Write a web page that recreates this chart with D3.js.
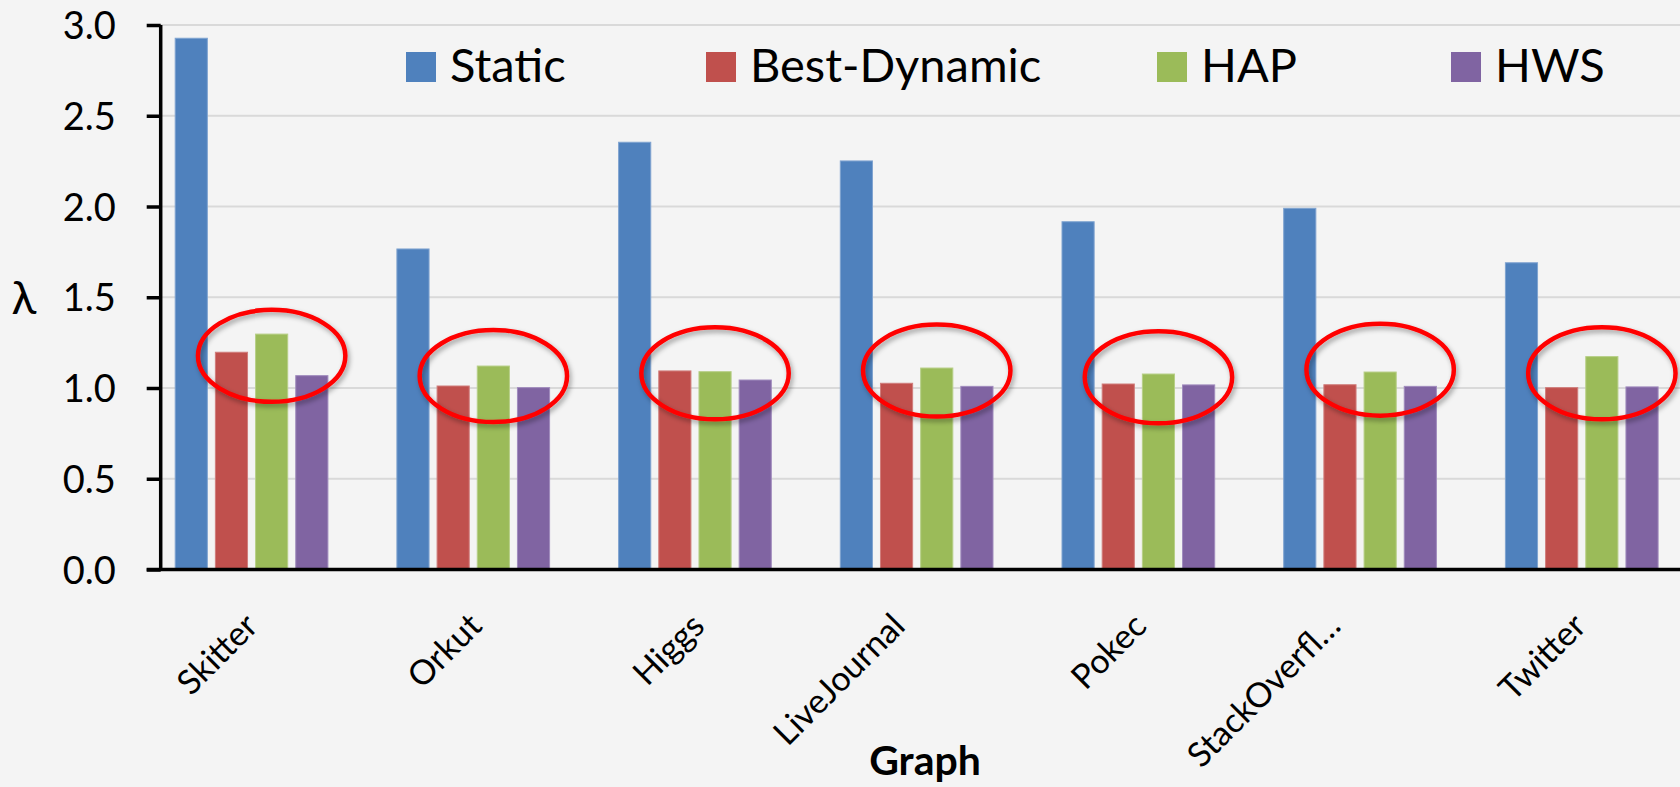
<!DOCTYPE html>
<html>
<head>
<meta charset="utf-8">
<script src="https://cdn.jsdelivr.net/npm/d3@7"></script>
<style>
  body { margin: 0; background: #f4f4f4; }
  text { font-family: Lato, "DejaVu Sans", sans-serif; fill: #000; }
</style>
</head>
<body>
<div id="chart"></div>
<script>
// donnees
const graphs = ["Skitter", "Orkut", "Higgs", "LiveJournal", "Pokec", "StackOverfl…", "Twitter"];
const series = ["Static", "Best-Dynamic", "HAP", "HWS"];
const staticVals = [2.927, 1.766, 2.354, 2.251, 1.916, 1.990, 1.690];
const bestDynVals = [1.197, 1.011, 1.094, 1.026, 1.022, 1.018, 1.002];
const hapVals = [1.297, 1.121, 1.090, 1.110, 1.077, 1.088, 1.173];
const hwsVals = [1.068, 1.002, 1.044, 1.009, 1.017, 1.009, 1.006];
const yTicks = [0, 0.5, 1.0, 1.5, 2.0, 2.5, 3.0];
// centre vertical des ellipses rouges (annotations)
const circleVals = [1.177, 1.066, 1.081, 1.096, 1.059, 1.101, 1.081];

const colors = {"Static": "#4f81bd", "Best-Dynamic": "#c0504d", "HAP": "#9bbb59", "HWS": "#8064a2"};
const borders = {"Static": "#7fa3d0", "Best-Dynamic": "#d07d7b", "HAP": "#b7cf87", "HWS": "#a08bbd"};

const W = 1680, H = 787;
const axisX = 160.7;
const band = 221.7, groupW = 152.7;

const svg = d3.select("#chart").append("svg").attr("width", W).attr("height", H);
svg.append("rect").attr("width", W).attr("height", H).attr("fill", "#f4f4f4");

const defs = svg.append("defs");
defs.append("filter").attr("id", "ombre").attr("x", "-20%").attr("y", "-20%").attr("width", "140%").attr("height", "140%")
  .append("feDropShadow").attr("dx", 2).attr("dy", 3).attr("stdDeviation", 2.5)
  .attr("flood-color", "#000").attr("flood-opacity", 0.35);

const y = d3.scaleLinear().domain([0, 3]).range([569.5, 25]);
const x0 = d3.scaleBand().domain(graphs).range([axisX - 20, axisX - 20 + graphs.length * band]);
const x1 = d3.scaleBand().domain(series).range([0, groupW]).paddingInner(0.2);
const groupOff = (x0.bandwidth() - groupW) / 2;

// grille
svg.append("g").selectAll("line").data(yTicks.filter(d => d > 0)).join("line")
  .attr("x1", axisX).attr("x2", W)
  .attr("y1", d => y(d)).attr("y2", d => y(d))
  .attr("stroke", "#d9d9d9").attr("stroke-width", 2);

// barres
const table = graphs.map((g, i) => ({
  graph: g,
  vals: {"Static": staticVals[i], "Best-Dynamic": bestDynVals[i], "HAP": hapVals[i], "HWS": hwsVals[i]}
}));

const groups = svg.append("g").selectAll("g").data(table).join("g")
  .attr("transform", d => "translate(" + (x0(d.graph) + groupOff) + ",0)");

groups.selectAll("rect").data(d => series.map(s => ({s: s, v: d.vals[s]}))).join("rect")
  .attr("x", d => x1(d.s)).attr("width", x1.bandwidth())
  .attr("y", d => y(d.v)).attr("height", d => y(0) - y(d.v))
  .attr("fill", d => colors[d.s])
  .attr("stroke", d => borders[d.s]).attr("stroke-width", 1);

// ellipses rouges autour de Best-Dynamic / HAP / HWS
svg.append("g").selectAll("ellipse").data(graphs).join("ellipse")
  .attr("cx", (g) => x0(g) + groupOff + x1("HAP") + x1.bandwidth() / 2)
  .attr("cy", (g, i) => y(circleVals[i]))
  .attr("rx", 73.7).attr("ry", 46)
  .attr("fill", "none").attr("stroke", "#ff0000").attr("stroke-width", 4.5)
  .attr("filter", "url(#ombre)");

// axe Y
const yAxis = svg.append("g").attr("transform", "translate(" + axisX + ",0)")
  .call(d3.axisLeft(y).tickValues(yTicks).tickFormat(d3.format(".1f")).tickSize(14).tickPadding(31));
yAxis.select(".domain").attr("stroke", "#000").attr("stroke-width", 3.5).attr("d", "M0," + y(3) + "V" + y(0));
yAxis.selectAll(".tick line").attr("stroke", "#000").attr("stroke-width", 3.5);
yAxis.selectAll(".tick text").attr("font-size", 38).attr("font-family", "Lato, sans-serif").attr("dy", "0.36em");

// axe X (ligne de base + etiquettes)
svg.append("line").attr("x1", axisX - 14).attr("x2", W).attr("y1", y(0)).attr("y2", y(0))
  .attr("stroke", "#000").attr("stroke-width", 3.5);

// les etiquettes longues sont un peu decalees vers la gauche (comme Excel)
svg.append("g").selectAll("text").data(graphs).join("text")
  .attr("text-anchor", "end")
  .attr("font-size", 34)
  .text(g => g)
  .attr("transform", function(g) {
    let len = this.getComputedTextLength();
    let dx = -0.25 * (len - 130);
    return "translate(" + (x0(g) + x0.bandwidth() / 2 + dx) + ",628) rotate(-45)";
  });

svg.append("text").attr("x", 925).attr("y", 775).attr("text-anchor", "middle")
  .attr("font-size", 41).attr("font-weight", "bold").text("Graph");

svg.append("text").attr("x", 24).attr("y", 314).attr("text-anchor", "middle")
  .attr("font-size", 46).attr("font-family", "'DejaVu Sans', sans-serif").text("λ");

// legende
const legX = [406, 706, 1157, 1451];
const leg = svg.append("g").selectAll("g").data(series).join("g")
  .attr("transform", (s, i) => "translate(" + legX[i] + ",0)");
leg.append("rect").attr("x", 0).attr("y", 52).attr("width", 30).attr("height", 30).attr("fill", s => colors[s]);
leg.append("text").attr("x", 44).attr("y", 82).attr("font-size", 47).text(s => s);
</script>
</body>
</html>
